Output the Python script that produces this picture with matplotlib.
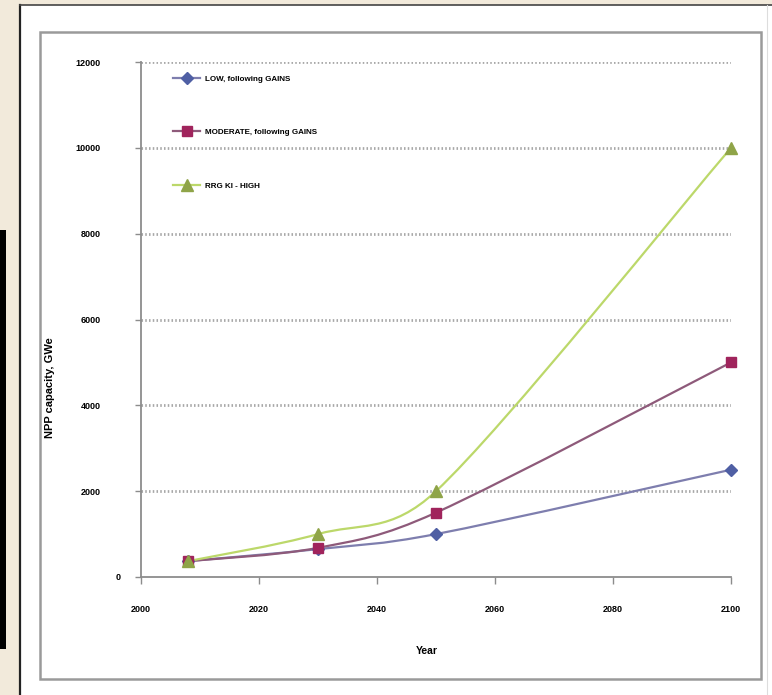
import matplotlib
matplotlib.use("Agg")
import matplotlib.pyplot as plt
import numpy as np
from matplotlib.path import Path
from matplotlib.patches import PathPatch, Rectangle
from matplotlib.lines import Line2D

# Scenario data: installed nuclear capacity (GWe)
years = [2008, 2030, 2050, 2100]
low_gains = [370, 650, 1000, 2500]
moderate_gains = [370, 680, 1500, 5000]
rrc_ki_high = [370, 1000, 2000, 10000]

series_names = ["LOW, following GAINS", "MODERATE, following GAINS", "RRG KI - HIGH"]
x_ticks = [2000, 2020, 2040, 2060, 2080, 2100]
y_ticks = [0, 2000, 4000, 6000, 8000, 10000, 12000]

W, H = 772, 695
fig = plt.figure(figsize=(W / 100, H / 100), dpi=100)
fig.patch.set_facecolor("white")

FONT = ["Liberation Sans Narrow", "Liberation Sans", "DejaVu Sans"]
plt.rcParams["font.family"] = FONT


def fx(px):
    return px / W


def fy(py):
    return 1 - py / H


# Slide backdrop: beige margin, black strip, dark frame, grey chart box
fig.add_artist(Rectangle((0, 0), fx(19), 1, transform=fig.transFigure,
                         facecolor="#F2EADB", edgecolor="none", zorder=0))
fig.add_artist(Rectangle((0, fy(5)), 1, 5 / H, transform=fig.transFigure,
                         facecolor="#F2EADB", edgecolor="none", zorder=0))
fig.add_artist(Rectangle((0, fy(649)), fx(6), (649 - 230) / H, transform=fig.transFigure,
                         facecolor="black", edgecolor="none", zorder=1))
fig.add_artist(Line2D([fx(19.5), fx(19.5)], [0, fy(4.5)], transform=fig.transFigure,
                      color="#222222", lw=1.6, zorder=2))
fig.add_artist(Line2D([fx(19.5), 1], [fy(4.5), fy(4.5)], transform=fig.transFigure,
                      color="#444444", lw=1.2, zorder=2))
fig.add_artist(Line2D([fx(767), fx(767)], [0, fy(5)], transform=fig.transFigure,
                      color="#DDDDDD", lw=0.8, zorder=2))
fig.add_artist(Rectangle((fx(40), fy(679)), (761 - 40) / W, (679 - 32) / H,
                         transform=fig.transFigure, facecolor="white",
                         edgecolor="#9A9A9A", lw=1.8, zorder=1))

# Plot area
ax = fig.add_axes([fx(141), fy(577), (731 - 141) / W, (577 - 62) / H])
ax.set_facecolor("none")
ax.set_zorder(3)
ax.set_xlim(2000, 2100)
ax.set_ylim(0, 12000)
for s in ["top", "right"]:
    ax.spines[s].set_visible(False)
for s in ["left", "bottom"]:
    ax.spines[s].set_color("#8C8C8C")
    ax.spines[s].set_linewidth(1.3)

ax.set_xticks(x_ticks)
ax.set_yticks(y_ticks)
ax.set_xticklabels([str(v) for v in x_ticks])
# the zero label sits closer to the axis, drawn separately below
ax.set_yticklabels(["" if v == 0 else str(v) for v in y_ticks])
ax.tick_params(axis="x", length=5, width=1.0, color="#8C8C8C", pad=15,
               labelsize=6.5)
ax.tick_params(axis="y", length=4, width=1.0, color="#8C8C8C", pad=25,
               labelsize=6.5)
for lab in ax.get_xticklabels() + ax.get_yticklabels():
    lab.set_fontweight("bold")
    lab.set_family(FONT)
ax.annotate(str(y_ticks[0]), xy=(0, y_ticks[0]), xycoords=("axes fraction", "data"),
            xytext=(-20, 0), textcoords="offset pixels", ha="right", va="center",
            fontsize=6.5, fontweight="bold", family=FONT)

for v in y_ticks[1:]:
    ax.axhline(v, color="#A8A8A8", lw=2.0, ls=(0, (0.55, 0.8)), zorder=1)


def smooth_path(xs, ys):
    """Spreadsheet-style smoothed line: cubic Bezier segments whose control
    handles are 1/6 of the neighbour chord, clamped to half the segment
    length (measured on screen)."""
    to_px = ax.transData
    pts = to_px.transform(np.column_stack([xs, ys]))
    n = len(pts)
    verts = [pts[0]]
    codes = [Path.MOVETO]
    for i in range(n - 1):
        p0 = pts[i - 1] if i > 0 else pts[i]
        p1 = pts[i]
        p2 = pts[i + 1]
        p3 = pts[i + 2] if i + 2 < n else pts[i + 1]
        half = np.hypot(*(p2 - p1)) / 2
        h1 = (p2 - p0) / 6
        h2 = (p3 - p1) / 6
        for h in (h1, h2):
            ln = np.hypot(*h)
            if ln > half:
                h *= half / ln
        verts += [p1 + h1, p2 - h2, p2]
        codes += [Path.CURVE4] * 3
    verts = to_px.inverted().transform(np.array(verts))
    return Path(verts, codes)


styles = [
    # line colour, marker, marker face colour, marker size
    ("#7E7EAE", "D", "#4F5FA4", 6.5),
    ("#8E5A7A", "s", "#A0245C", 7.0),
    ("#BCD86A", "^", "#8FA448", 8.0),
]
all_series = [low_gains, moderate_gains, rrc_ki_high]

handles = []
for vals, (lc, mk, mfc, ms), name in zip(all_series, styles, series_names):
    patch = PathPatch(smooth_path(years, vals), facecolor="none", edgecolor=lc,
                      lw=1.6, zorder=4)
    ax.add_patch(patch)
    ax.plot(years, vals, ls="none", marker=mk, markersize=ms, markerfacecolor=mfc,
            markeredgecolor=mfc, zorder=5, clip_on=False)
    handles.append(Line2D([], [], color=lc, lw=1.6, marker=mk, markersize=ms,
                          markerfacecolor=mfc, markeredgecolor=mfc, label=name))

leg = fig.legend(handles=handles, loc="upper left",
                 bbox_to_anchor=(fx(173), fy(75)), frameon=False,
                 prop={"family": FONT, "weight": "bold", "size": 5.8},
                 handlelength=3.4, handletextpad=0.6, labelspacing=5.7,
                 borderpad=0, borderaxespad=0)
leg.set_zorder(6)

fig.text(fx(427), fy(651), "Year", ha="center", va="center", fontsize=7.5,
         fontweight="bold", family=FONT)
fig.text(fx(50), fy(388), "NPP capacity, GWe", ha="center", va="center",
         rotation=90, fontsize=8.0, fontweight="bold", family=FONT)

fig.savefig("out.png", dpi=100)
